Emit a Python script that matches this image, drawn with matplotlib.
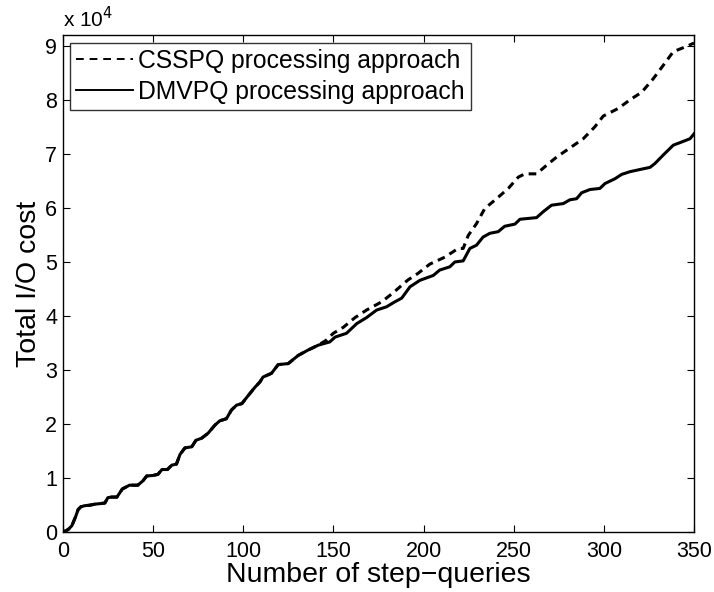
import matplotlib
matplotlib.use("Agg")
import matplotlib.pyplot as plt
from matplotlib.lines import Line2D

plt.rcParams['font.family'] = ['Liberation Sans', 'DejaVu Sans']

# DMVPQ (solid) - step-queries and total I/O cost (x 10^4)
dmv_x = [0, 3, 5, 7, 8.5, 10, 12, 15, 18, 21, 23.3, 25, 27, 30, 33, 37, 41.6, 44.4, 46.5, 50,
         52.7, 55, 58, 60.4, 63, 65, 67.7, 71.5, 73.8, 77, 80.5, 84.3, 87, 90.7, 93.5, 96.3,
         99.3, 102.6, 106.5, 109.3, 111, 115.7, 119.4, 125, 130.5, 136, 141.6, 148, 151, 157.3,
         163, 168.4, 174, 179.5, 184, 187.9, 192.5, 198, 205.4, 209, 214.6, 217.4, 222, 225.7,
         229.4, 233, 236.8, 241.4, 245, 250.7, 253.5, 262.7, 266.4, 271, 277.5, 281.2, 284.9,
         287.7, 292.3, 297.8, 300.6, 306.2, 309.9, 314.5, 320, 325.6, 328.3, 333, 338.5, 344,
         347.8, 350]
dmv_y = [0, 0.05, 0.12, 0.28, 0.42, 0.47, 0.49, 0.50, 0.52, 0.53, 0.54, 0.64, 0.65, 0.65, 0.80,
         0.87, 0.87, 0.95, 1.04, 1.05, 1.07, 1.16, 1.16, 1.24, 1.26, 1.44, 1.56, 1.58, 1.70, 1.74,
         1.83, 1.98, 2.06, 2.10, 2.26, 2.35, 2.38, 2.52, 2.68, 2.78, 2.87, 2.94, 3.10, 3.12, 3.27,
         3.37, 3.46, 3.52, 3.61, 3.68, 3.86, 3.97, 4.11, 4.17, 4.26, 4.33, 4.54, 4.66, 4.75, 4.85,
         4.91, 5.00, 5.02, 5.25, 5.31, 5.46, 5.53, 5.56, 5.66, 5.70, 5.79, 5.82, 5.93, 6.05, 6.08,
         6.15, 6.17, 6.28, 6.34, 6.36, 6.45, 6.54, 6.62, 6.67, 6.71, 6.75, 6.82, 6.98, 7.16, 7.23,
         7.28, 7.37]

# CSSPQ (dashed): identical to DMVPQ up to ~141 step-queries, then diverges
shared_n = 47  # points of dmv_x up to 141.6
css_tail_x = [146, 150, 155.5, 162, 168.4, 176.7, 183.2, 189.7, 191.5, 197, 203.5, 211.9, 219.2,
              222, 224.8, 229.4, 234, 240.5, 247, 252.6, 256.2, 262.7, 268.3, 273.8, 282.1, 288.6,
              295, 299.7, 308, 314.5, 321, 327.4, 333, 338.5, 346, 350]
css_tail_y = [3.55, 3.68, 3.79, 3.97, 4.11, 4.26, 4.43, 4.62, 4.67, 4.79, 4.96, 5.09, 5.25,
              5.25, 5.49, 5.71, 5.99, 6.17, 6.36, 6.57, 6.63, 6.63, 6.79, 6.94, 7.13, 7.28,
              7.50, 7.70, 7.84, 8.00, 8.14, 8.39, 8.64, 8.89, 8.99, 9.05]
css_x = dmv_x[:shared_n] + css_tail_x
css_y = dmv_y[:shared_n] + css_tail_y

labels = ['CSSPQ processing approach', 'DMVPQ processing approach']
xticks = [0, 50, 100, 150, 200, 250, 300, 350]
yticks = [0, 1, 2, 3, 4, 5, 6, 7, 8, 9]

fig = plt.figure(figsize=(7.14, 5.92), dpi=100)
ax = fig.add_axes([0.088, 0.101, 0.884, 0.840])

ax.plot(css_x, css_y, color='black', linestyle=(0, (2.5, 1.8)), linewidth=2.2)
ax.plot(dmv_x, dmv_y, color='black', linestyle='-', linewidth=2.2)

ax.set_xlim(0, 350)
ax.set_ylim(0, 9.2)
ax.set_xticks(xticks)
ax.set_yticks(yticks)
ax.set_xticklabels([str(t) for t in xticks], fontsize=15.5)
ax.set_yticklabels([str(t) for t in yticks], fontsize=15.5)
ax.tick_params(direction='in', length=5, width=0.8, top=True, right=True)
ax.tick_params(axis='x', pad=6)
ax.tick_params(axis='y', pad=4)
for s in ax.spines.values():
    s.set_linewidth(1.0)

ax.set_xlabel('Number of step\u2212queries', fontsize=20.5, labelpad=0)
ax.set_ylabel('Total I/O cost', fontsize=20.5, labelpad=2)
ax.text(0.0, 1.008, 'x 10$^{4}$', transform=ax.transAxes, fontsize=15,
        ha='left', va='bottom')

handles = [Line2D([], [], color='black', linestyle=(0, (4, 3)), linewidth=1.4),
           Line2D([], [], color='black', linestyle='-', linewidth=1.4)]
leg = ax.legend(handles, labels, loc='upper left', bbox_to_anchor=(0.011, 0.984), fontsize=17.8,
                frameon=True, fancybox=False, edgecolor='black', borderpad=0.25,
                handlelength=2.3, handletextpad=0.2, labelspacing=0.28, borderaxespad=0)
leg.get_frame().set_linewidth(1.0)

fig.savefig('out.png', dpi=100)
